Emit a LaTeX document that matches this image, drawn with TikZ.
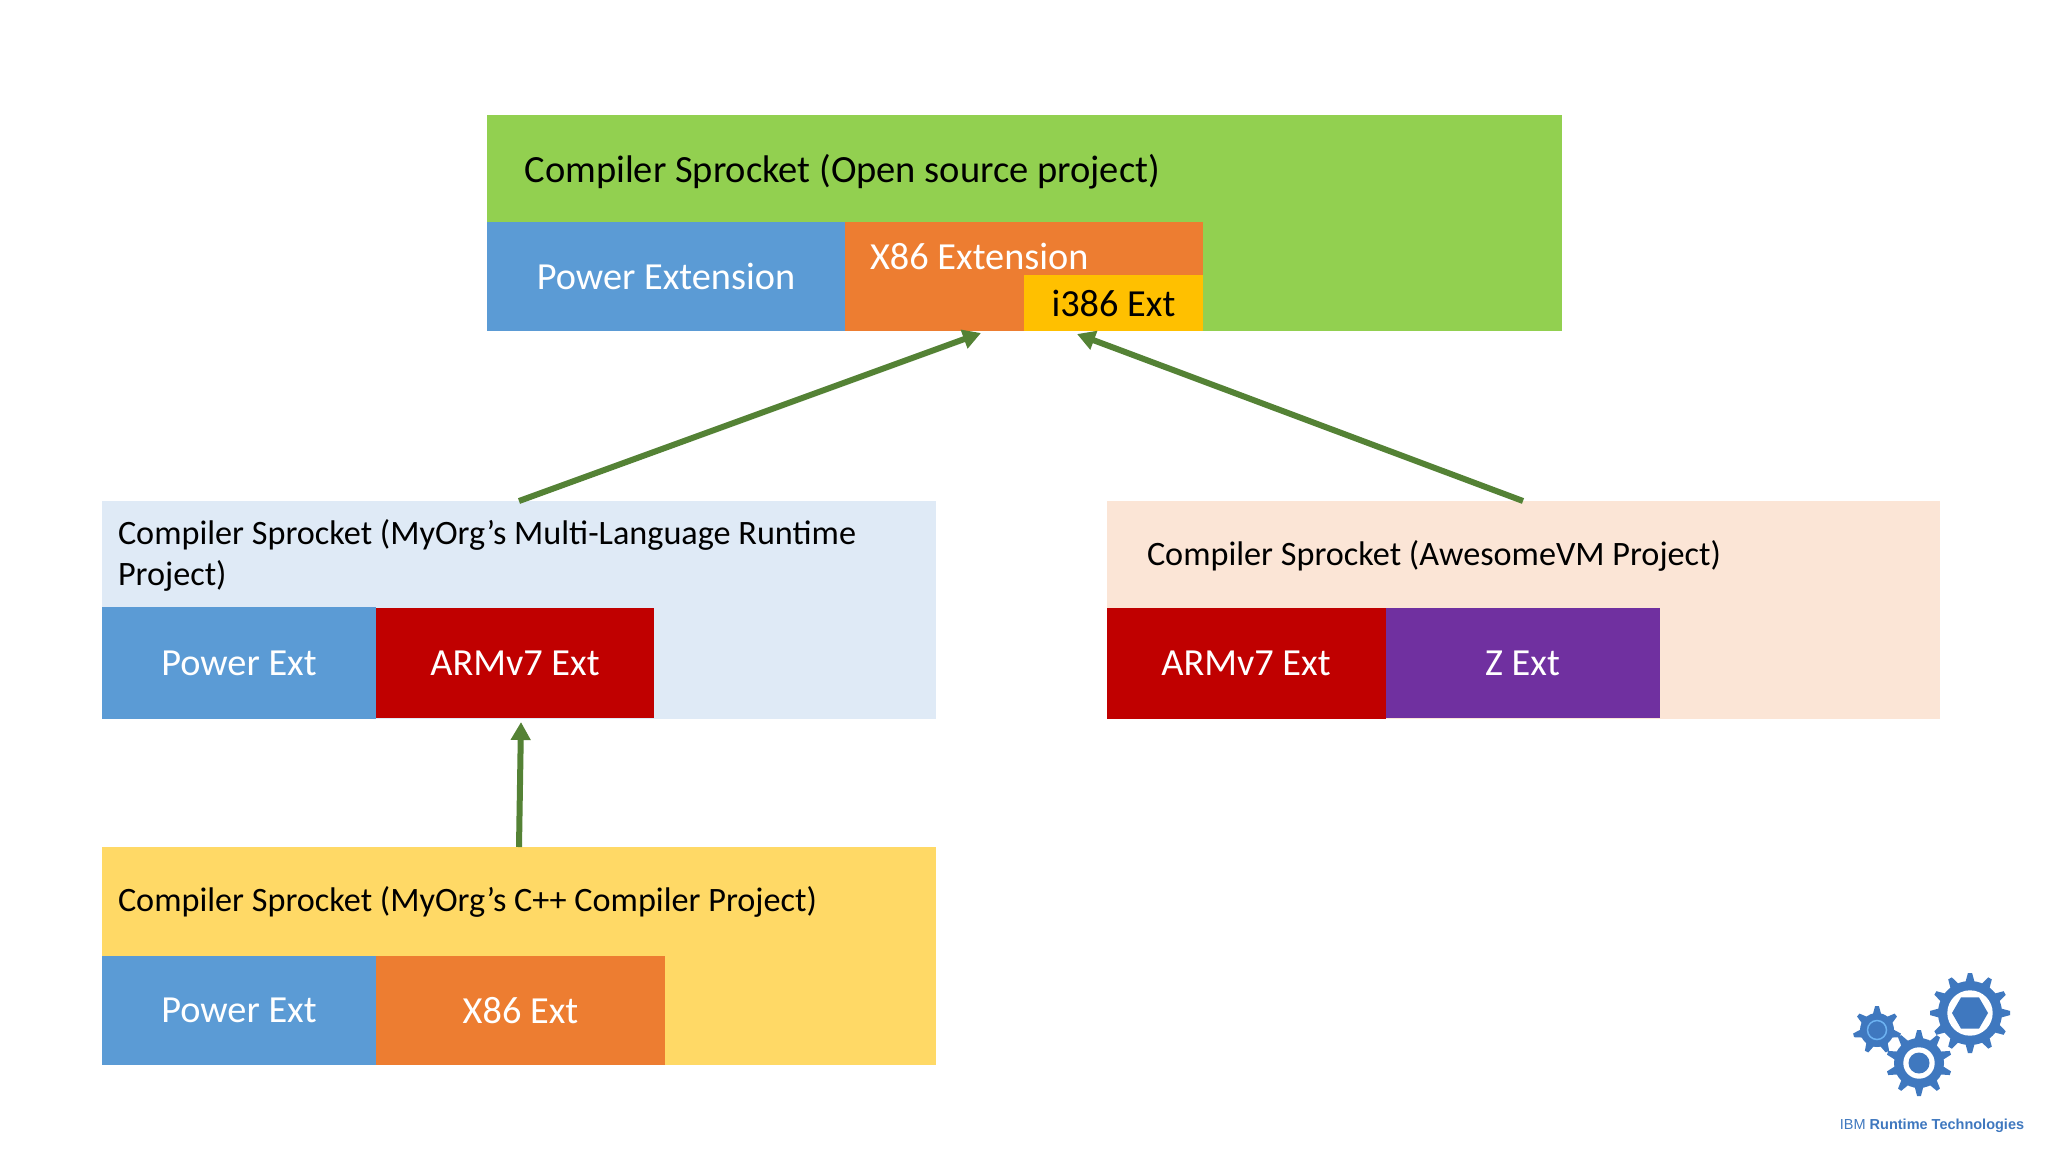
\documentclass[tikz,border=0pt]{standalone}
\usepackage{fontspec}
\setmainfont{Carlito}
\newfontfamily\logofont{Liberation Sans}
\usetikzlibrary{positioning, arrows.meta}
\definecolor{ossgreen}{HTML}{92D050}
\definecolor{powerblue}{HTML}{5B9BD5}
\definecolor{xorange}{HTML}{ED7D31}
\definecolor{iamber}{HTML}{FFC000}
\definecolor{armred}{HTML}{C00000}
\definecolor{zpurple}{HTML}{7030A0}
\definecolor{myorgblue}{HTML}{DFEAF6}
\definecolor{awesomepeach}{HTML}{FBE5D6}
\definecolor{cppyellow}{HTML}{FFD966}
\definecolor{arrowgreen}{HTML}{548235}
\definecolor{gearblue}{HTML}{3F78BF}
\definecolor{ringblue}{HTML}{6DB3F2}
\tikzset{
    x=1pt, y=-1pt,
    panel/.style={anchor=north west, inner sep=0pt, outer sep=0pt},
    extbox/.style={inner sep=0pt, outer sep=0pt, text=white, font=\fontsize{38.3}{46}\selectfont},
    titletext/.style={inner sep=0pt, outer sep=0pt, anchor=west, text=black, font=\fontsize{34.2}{41}\selectfont},
    link/.style={draw=arrowgreen, line width=6pt, -{Triangle[width=19pt, length=18pt]}},
}
% gear: center, teeth, outer radius, root radius
\newcommand{\sprocket}[4]{
    \begin{scope}[shift={(#1)}]
        \fill[gearblue] (0,0) circle (#4);
        \foreach \t in {1,...,#2}
            \fill[gearblue, rotate=\t*360/#2+90] (#4-2,-0.3*#4*6/#2) -- (#3,-0.13*#4*6/#2) -- (#3,0.13*#4*6/#2) -- (#4-2,0.3*#4*6/#2) -- cycle;
    \end{scope}
}
\begin{document}
\begin{tikzpicture}
    \useasboundingbox[fill=white] (0,0) rectangle (2048,1152);

    % open source project
    \node[panel, fill=ossgreen, minimum width=1075pt, minimum height=216pt] (oss) at (487,115) {};
    \node[titletext, font=\fontsize{38.5}{46}\selectfont] (osstitle) at (524.5,172) {Compiler Sprocket (Open source project)};
    \node[extbox, fill=powerblue, minimum width=358pt, minimum height=109pt, above right=0pt and 0pt of oss.south west] (ossp) {Power Extension};
    \node[extbox, fill=xorange, minimum width=358pt, minimum height=109pt, right=0pt of ossp] (ossx) {};
    \node[extbox, fill=iamber, minimum width=179pt, minimum height=56pt, above left=0pt and 0pt of ossx.south east, text=black] (ossi) {i386 Ext};
    \node[titletext, text=white, font=\fontsize{38.3}{46}\selectfont] (ossxtext) at (870,256) {X86 Extension};
    \coordinate (ltip) at (981,333);
    \coordinate (rtip) at (1077,334);

    % myorg runtime project
    \node[panel, fill=myorgblue, minimum width=834pt, minimum height=218pt] (myorg) at (102,501) {};
    \node[titletext, align=left] (myorgtitle) at (118,555.5) {Compiler Sprocket (MyOrg’s Multi-Language Runtime\\Project)};
    \node[extbox, fill=powerblue, minimum width=274pt, minimum height=112pt, above right=0pt and 0pt of myorg.south west] (myorgp) {Power Ext};
    \node[extbox, fill=armred, minimum width=278pt, minimum height=110pt, anchor=south west] (myorga) at (376,718) {ARMv7 Ext};
    \coordinate (atip) at (521,722);

    % awesomevm project
    \node[panel, fill=awesomepeach, minimum width=833pt, minimum height=218pt] (awesome) at (1106.5,501) {};
    \node[titletext] (awesometitle) at (1147,556) {Compiler Sprocket (AwesomeVM Project)};
    \node[extbox, fill=armred, minimum width=279pt, minimum height=111pt, above right=0pt and 0pt of awesome.south west] (awesomea) {ARMv7 Ext};
    \node[extbox, fill=zpurple, minimum width=274pt, minimum height=110pt, anchor=south west] (awesomez) at (1385.5,718) {Z Ext};

    % myorg c++ project
    \node[panel, fill=cppyellow, minimum width=834pt, minimum height=218pt] (cpp) at (102,847) {};
    \node[titletext] (cpptitle) at (118,902) {Compiler Sprocket (MyOrg’s C++ Compiler Project)};
    \node[extbox, fill=powerblue, minimum width=274pt, minimum height=109pt, above right=0pt and 0pt of cpp.south west] (cppp) {Power Ext};
    \node[extbox, fill=xorange, minimum width=289pt, minimum height=109pt, right=0pt of cppp] (cppx) {X86 Ext};

    \draw[link] (myorg.north) -- (ltip);
    \draw[link] (awesome.north) -- (rtip);
    \draw[link] (cpp.north) -- (atip);

    % logo
    \sprocket{1970,1013}{12}{40}{32}
    \fill[white] (1970,1013) circle (22.7);
    \fill[gearblue] (1970,1013) ++(0:18) -- ++(120:18) -- ++(180:18) -- ++(240:18) -- ++(300:18) -- ++(0:18) -- cycle;
    \sprocket{1919,1063}{10}{33}{25}
    \fill[white] (1919,1063) circle (15.7);
    \fill[gearblue] (1919,1063) circle (10.5);
    \sprocket{1877,1030}{7}{24}{17}
    \draw[ringblue, line width=1.5pt] (1877,1030) circle (9.5);
    \node[inner sep=0pt, text=gearblue, font=\logofont\fontsize{14.5}{16}\selectfont] (logotext) at (1932,1126) {IBM \textbf{Runtime Technologies}};
\end{tikzpicture}
\end{document}
